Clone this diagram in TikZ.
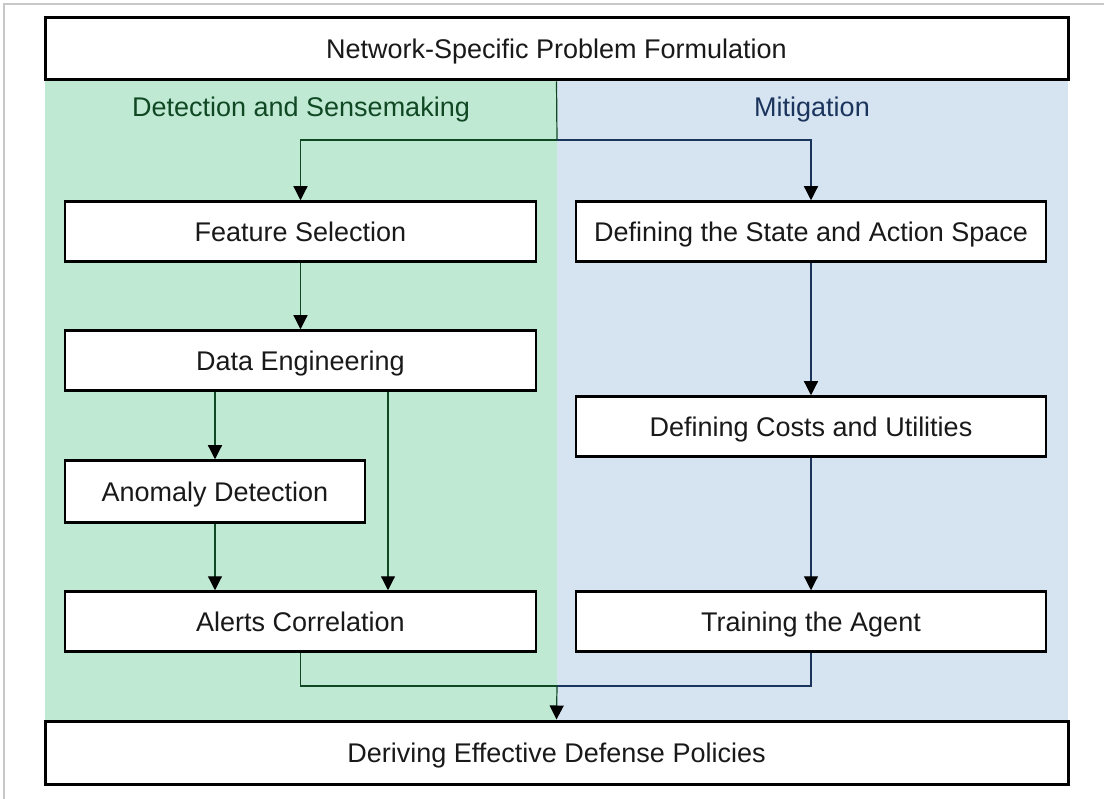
\documentclass[tikz,border=0pt]{standalone}
\usepackage{fontspec}
\setmainfont{Liberation Sans}
\usetikzlibrary{arrows.meta,calc}
\definecolor{greenbg}{RGB}{191,233,211}
\definecolor{bluebg}{RGB}{214,228,242}
\definecolor{darkgreen}{RGB}{16,72,36}
\definecolor{darkblue}{RGB}{26,52,92}
\definecolor{txt}{RGB}{25,25,25}
\definecolor{frame}{RGB}{200,200,200}
\tikzset{
  stepbox/.style={draw=black, line width=2.5pt, fill=white, rectangle, inner sep=0pt,
    text=txt, font=\fontsize{27}{32}\selectfont, text height=19.5pt, text depth=0pt,
    minimum height=60pt},
  bigbox/.style={stepbox, line width=3pt, minimum width=1023pt, minimum height=62pt},
  tip/.style={-{Triangle[width=14pt,length=14pt,fill=black,color=black]}},
  garrow/.style={draw=darkgreen, line width=1.2pt, tip},
  barrow/.style={draw=darkblue, line width=1.2pt, tip},
  gline/.style={draw=darkgreen, line width=1.2pt},
  bline/.style={draw=darkblue, line width=1.2pt},
  paneltitle/.style={font=\fontsize{27}{32}\selectfont, text height=19.5pt, text depth=0pt, inner sep=0pt}
}
\begin{document}
\begin{tikzpicture}[x=1pt,y=-1pt]
\useasboundingbox (0,0) rectangle (1104,799);
\fill[white] (0,0) rectangle (1104,799);
\draw[frame, line width=1.5pt] (4,799) -- (4,4) -- (1104,4);
% panels
\fill[greenbg] (45,80) rectangle (557,720);
\fill[bluebg] (557,80) rectangle (1068,720);
\node[paneltitle, text=darkgreen] (tdet) at (301,107) {Detection and Sensemaking};
\node[paneltitle, text=darkblue] (tmit) at (812,107) {Mitigation};
% boxes
\node[bigbox] (top) at (556.5,49) {Network-Specific Problem Formulation};
\node[bigbox, minimum height=63pt] (bot) at (556.5,752.5) {Deriving Effective Defense Policies};
\node[stepbox, minimum width=471pt] (fs) at (300.5,231.5) {Feature Selection};
\node[stepbox, minimum width=471pt] (de) at (300.5,360.5) {Data Engineering};
\node[stepbox, minimum width=300pt, minimum height=62pt] (ad) at (215,491.5) {Anomaly Detection};
\node[stepbox, minimum width=471pt] (ac) at (300.5,621.5) {Alerts Correlation};
\node[stepbox, minimum width=470pt] (ds) at (811,231.5) {Defining the State and Action Space};
\node[stepbox, minimum width=470pt] (dc) at (811,426.5) {Defining Costs and Utilities};
\node[stepbox, minimum width=470pt] (ta) at (811,621.5) {Training the Agent};
% coordinates
\coordinate (split) at (557,140);
\coordinate (merge) at (557,686);
\coordinate (xr) at (388,0);
% top split
\draw[gline] (top.south) -- (split);
\draw[garrow] (split) -| (fs.north);
\draw[barrow] (split) -| (ds.north);
% left column
\draw[garrow] (fs) -- (de);
\draw[garrow] (de.south -| ad.north) -- (ad.north);
\draw[garrow] (de.south -| xr) -- (ac.north -| xr);
\draw[garrow] (ad.south) -- (ac.north -| ad.south);
% right column
\draw[barrow] (ds) -- (dc);
\draw[barrow] (dc) -- (ta);
% merge
\draw[gline] (ac.south) |- (merge);
\draw[bline] (ta.south) |- (merge);
\draw[garrow] (merge) -- (bot.north);
\end{tikzpicture}
\end{document}
